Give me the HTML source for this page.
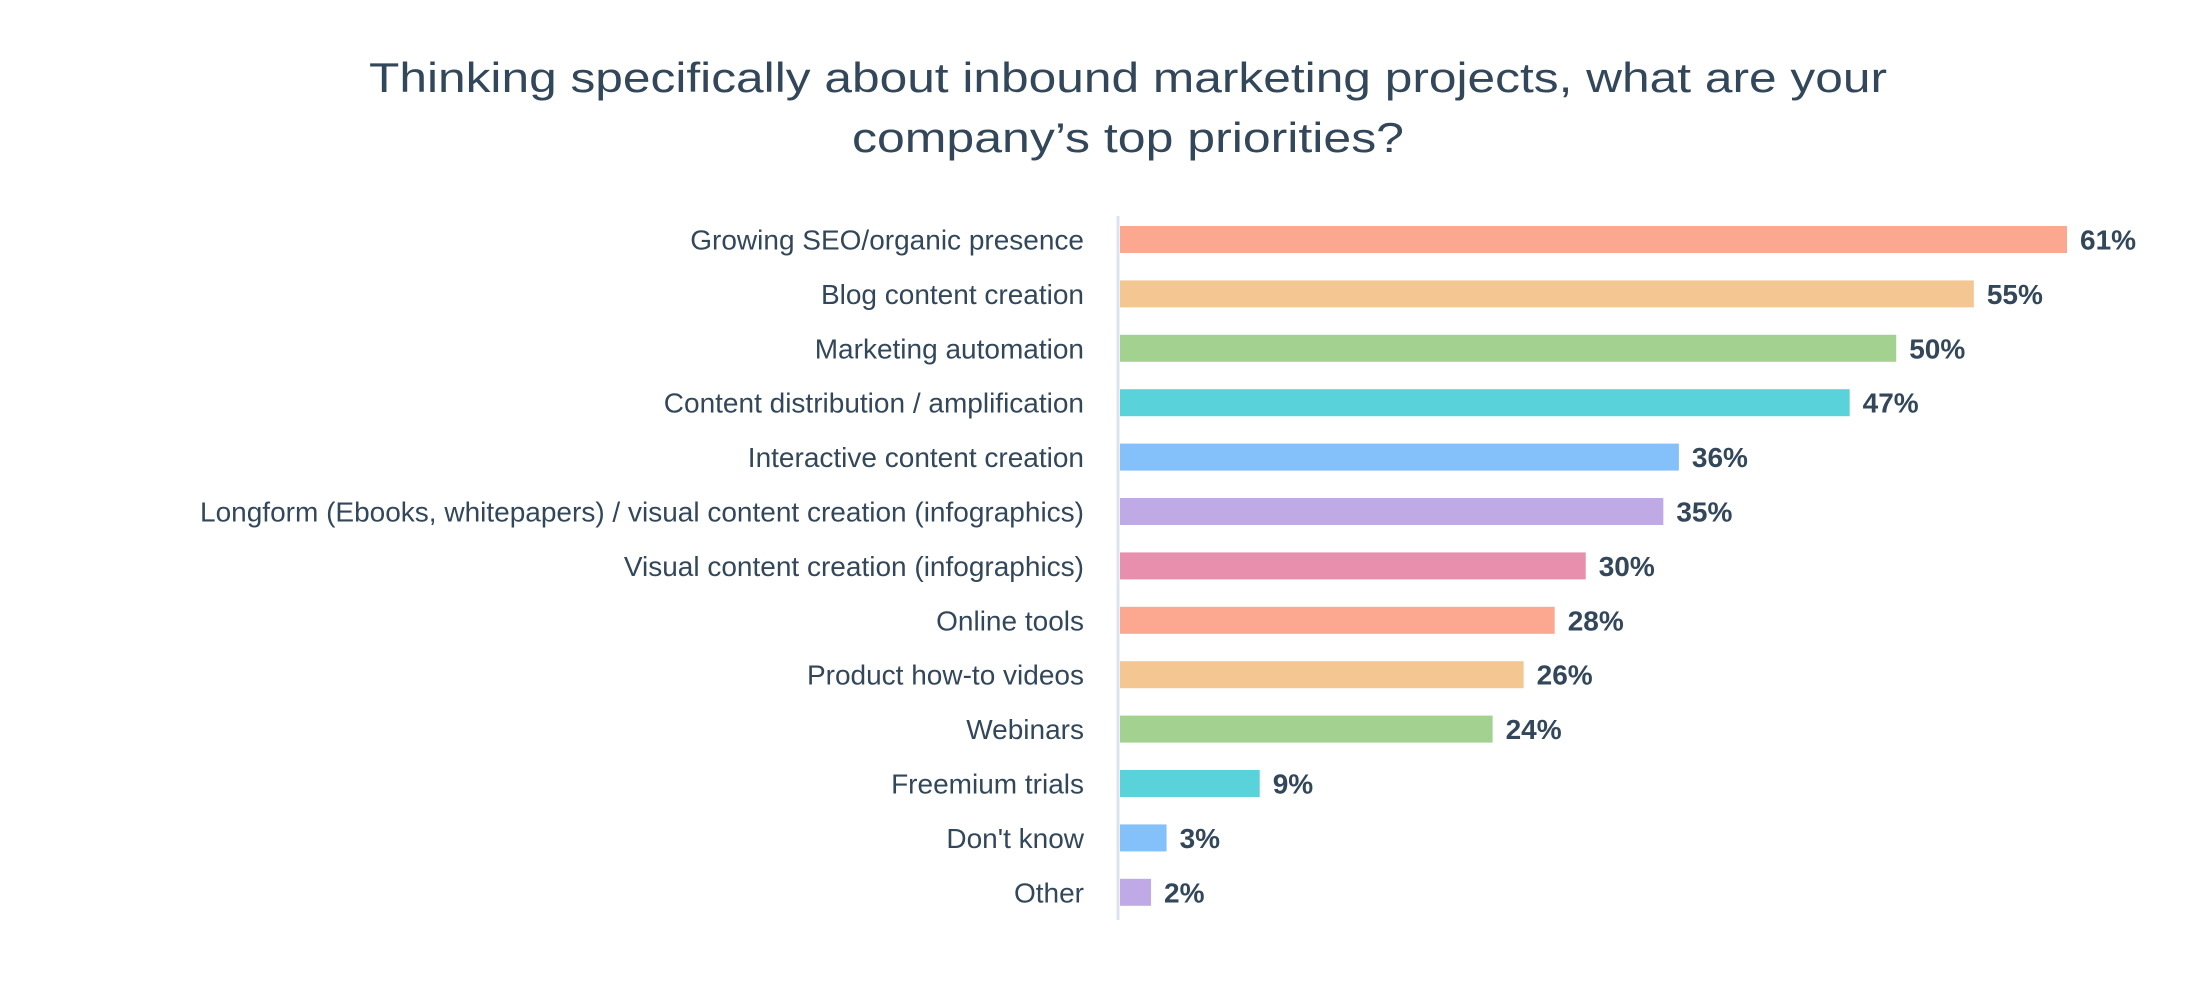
<!DOCTYPE html>
<html><head><meta charset="utf-8">
<style>
html,body{margin:0;padding:0;background:#fff;}
svg{display:block;font-family:"Liberation Sans",sans-serif;}
</style></head>
<body>
<svg id="chart" width="2212" height="1002" viewBox="0 0 2212 1002" xmlns="http://www.w3.org/2000/svg">
<rect width="2212" height="1002" fill="#fff"/>
<g fill="#33475b" font-size="42" text-anchor="middle">
<text x="1128" y="92" textLength="1518" lengthAdjust="spacingAndGlyphs">Thinking specifically about inbound marketing projects, what are your</text>
<text x="1128" y="152" textLength="552" lengthAdjust="spacingAndGlyphs">company’s top priorities?</text>
</g>
<line x1="1118" y1="216" x2="1118" y2="920" stroke="#dde3ec" stroke-width="3"/>
<g id="bars"></g>
</svg>
<script>
const categories = ["Growing SEO/organic presence","Blog content creation","Marketing automation","Content distribution / amplification","Interactive content creation","Longform (Ebooks, whitepapers) / visual content creation (infographics)","Visual content creation (infographics)","Online tools","Product how-to videos","Webinars","Freemium trials","Don't know","Other"];
const values = [61,55,50,47,36,35,30,28,26,24,9,3,2];
const valueLabels = ["61%","55%","50%","47%","36%","35%","30%","28%","26%","24%","9%","3%","2%"];
const palette = ["#fca78f","#f4c792","#a3d290","#59d3d9","#84c1fa","#bfaae6","#e88fad"];

const x0 = 1120, pxPerUnit = 947/61;
const xScale = v => x0 + v*pxPerUnit;
const yCenter = i => 239.5 + i*54.4;
const barH = 27;
const NS = "http://www.w3.org/2000/svg";
const g = document.getElementById('bars');
categories.forEach((c,i)=>{
  const cy = yCenter(i);
  const lab = document.createElementNS(NS,'text');
  
  
  lab.setAttribute('x', 1084);
  lab.setAttribute('y', cy+10);
  lab.setAttribute('text-anchor','end');
  lab.setAttribute('font-size','28');
  lab.setAttribute('fill','#33475b');
  lab.textContent = c;
  g.appendChild(lab);
  const r = document.createElementNS(NS,'rect');
  
  
  r.setAttribute('x', x0);
  r.setAttribute('y', cy-barH/2);
  r.setAttribute('width', xScale(values[i])-x0);
  r.setAttribute('height', barH);
  r.setAttribute('fill', palette[i%palette.length]);
  g.appendChild(r);
  const v = document.createElementNS(NS,'text');
  
  
  v.setAttribute('x', xScale(values[i])+13);
  v.setAttribute('y', cy+10);
  v.setAttribute('font-size','28');
  v.setAttribute('font-weight','bold');
  v.setAttribute('fill','#33475b');
  v.textContent = valueLabels[i];
  g.appendChild(v);
});
</script>
</body></html>
